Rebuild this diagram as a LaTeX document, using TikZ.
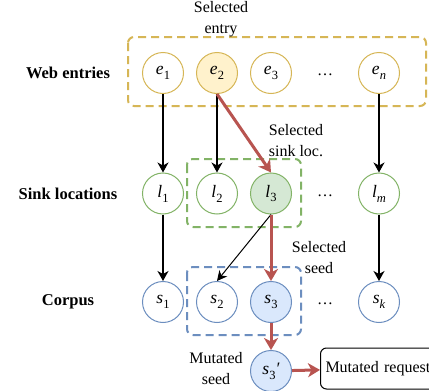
\documentclass[tikz,border=0pt]{standalone}
\usepackage{fontspec}
\setmainfont{Liberation Serif}
\usetikzlibrary{arrows.meta}
\definecolor{ystroke}{HTML}{D6B656}
\definecolor{yfill}{HTML}{FFF2CC}
\definecolor{gstroke}{HTML}{82B366}
\definecolor{gfill}{HTML}{D5E8D4}
\definecolor{bstroke}{HTML}{6C8EBF}
\definecolor{bfill}{HTML}{DAE8FC}
\definecolor{rstroke}{HTML}{B85450}
\newcommand\lbl[2]{\textit{#1}\raisebox{-0.28em}{\fontsize{12.5}{12.5}\selectfont #2}}
\newcommand\lbli[2]{\textit{#1}\raisebox{-0.28em}{\fontsize{12.5}{12.5}\selectfont\itshape #2}}
\tikzset{
  circ/.style={circle, draw, line width=1pt, minimum size=41pt, inner sep=0pt, fill=white, font=\fontsize{17.5}{17.5}\selectfont},
  ycirc/.style={circ, draw=ystroke},
  gcirc/.style={circ, draw=gstroke},
  bcirc/.style={circ, draw=bstroke},
  grp/.style={dash pattern=on 8pt off 5pt, line width=2pt, rounded corners=6pt},
  blk/.style={line width=1.3pt, -{Stealth[length=10pt,width=11pt,inset=3pt]}},
  thinblk/.style={line width=1pt, -{Stealth[length=10pt,width=10pt,inset=3pt]}},
  red/.style={draw=rstroke, line width=3pt, -{Stealth[length=12pt,width=14pt,inset=3.5pt]}},
  rowlbl/.style={font=\fontsize{16.5}{16.5}\selectfont\bfseries},
  note/.style={align=center, font=\fontsize{16}{21}\selectfont},
  dots/.style={font=\fontsize{16}{16}\selectfont}
}
\begin{document}
\begin{tikzpicture}[x=1pt,y=-1pt]
\useasboundingbox (0,0) rectangle (429,391);
\fill[white] (0,0) rectangle (429,391);
% group boxes
\draw[grp, draw=ystroke] (128,37) rectangle (426,106);
\draw[grp, draw=gstroke] (187,159) rectangle (301,227);
\draw[grp, draw=bstroke] (187,267) rectangle (301,335);
% row labels
\node[rowlbl] (rweb) at (68,73) {Web entries};
\node[rowlbl] (rsink) at (68,193.5) {Sink locations};
\node[rowlbl] (rcorp) at (68,302) {Corpus};
% web entries
\node[ycirc] (e1) at (163,73) {\lbl{e}{1}};
\node[ycirc, fill=yfill] (e2) at (217,73) {\lbl{e}{2}};
\node[ycirc] (e3) at (271,73) {\lbl{e}{3}};
\node[dots] (edots) at (325,75) {\dots};
\node[ycirc] (en) at (379,73) {\lbli{e}{n}};
% sink locations
\node[gcirc] (l1) at (163,193.5) {\lbl{l}{1}};
\node[gcirc] (l2) at (217,193.5) {\lbl{l}{2}};
\node[gcirc, fill=gfill] (l3) at (271,193.5) {\lbl{l}{3}};
\node[dots] (ldots) at (325,195.5) {\dots};
\node[gcirc] (lm) at (379,193.5) {\lbli{l}{m}};
% corpus
\node[bcirc] (s1) at (163,302) {\lbl{s}{1}};
\node[bcirc] (s2) at (217,302) {\lbl{s}{2}};
\node[bcirc, fill=bfill] (s3) at (271,302) {\lbl{s}{3}};
\node[dots] (sdots) at (325,304) {\dots};
\node[bcirc] (sk) at (379,302) {\lbli{s}{k}};
% mutated
\node[bcirc, fill=bfill] (s3m) at (271,371) {\lbl{s}{3}\textit{′}};
\node[draw, line width=1pt, rounded corners=6pt, anchor=west, minimum height=41pt, minimum width=125pt, inner sep=5pt, font=\fontsize{16}{16}\selectfont, align=left, text width=115pt] (mreq) at (320,368.5) {Mutated request};
% notes
\node[note] (n1) at (221,19) {Selected\\entry};
\node[note] (n2) at (296,141) {Selected\\sink loc.};
\node[note] (n3) at (319,258) {Selected\\seed};
\node[note] (n4) at (216,369) {Mutated\\seed};
% connectors
\draw[blk] (e1) -- (l1);
\draw[blk] (e2) -- (l2);
\draw[blk] (en) -- (lm);
\draw[blk] (l1) -- (s1);
\draw[blk] (lm) -- (sk);
\draw[thinblk] (l3.south) -- (s2.north);
\draw[red] (e2.south) -- (l3.north);
\draw[red] (l3) -- (s3);
\draw[red] (s3) -- (s3m);
\draw[red] (s3m) -- (mreq);
\end{tikzpicture}
\end{document}
